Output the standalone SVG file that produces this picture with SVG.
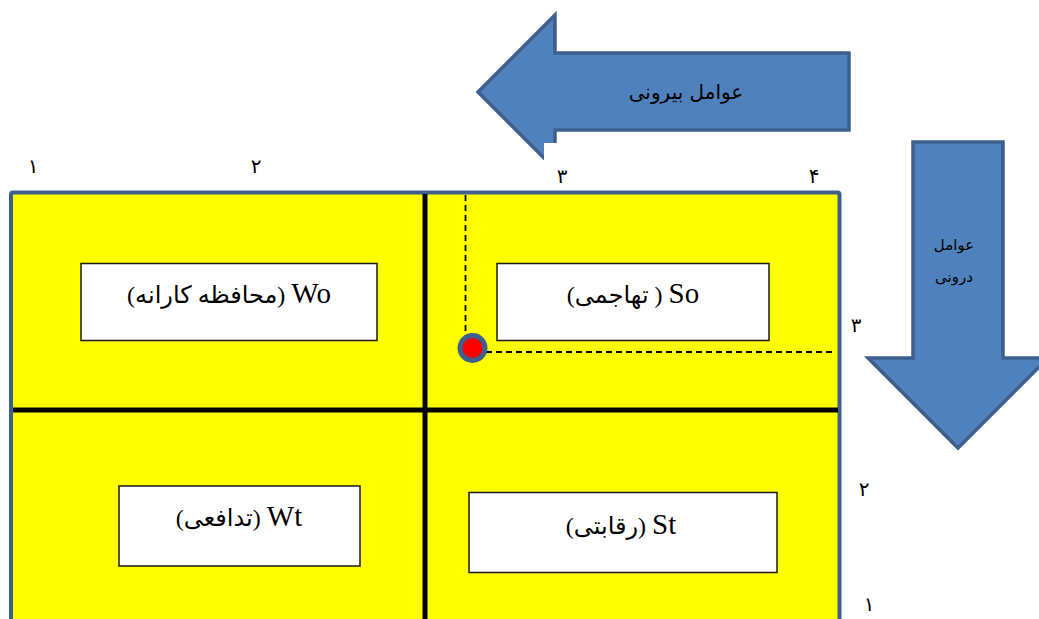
<svg xmlns="http://www.w3.org/2000/svg" width="1039" height="619" viewBox="0 0 1039 619">
<style>
.arrow{fill:#4f81bd;stroke:#3c5f8e;stroke-width:3.5;stroke-linejoin:miter}
.box{fill:#fff;stroke:#1a1a1a;stroke-width:1.5}
.bt{font-family:"Liberation Serif","DejaVu Sans",serif;font-size:24px;fill:#000;text-anchor:middle;direction:rtl;unicode-bidi:embed}
.lat{font-size:29px}
.at{font-family:"DejaVu Sans","Noto Sans",sans-serif;fill:#000;text-anchor:middle;direction:rtl}
.num{font-family:"DejaVu Sans",sans-serif;font-size:20px;fill:#000;text-anchor:middle}
.grid{stroke:#000;stroke-width:5}
.dash{stroke:#000;stroke-width:1.8;stroke-dasharray:6 4;fill:none}
</style>
<defs>
<clipPath id="topclip"><path d="M0,0 H1039 V143 H544 V619 H0 Z"/></clipPath>
</defs>
<rect width="1039" height="619" fill="#fff"/>

<g id="external-arrow">
<polygon class="arrow" clip-path="url(#topclip)" points="478,92 555,15 555,53 849,53 849,130 555,130 555,169"/>
<text class="at" x="686" y="99" font-size="20">عوامل بیرونی</text>
</g>

<g id="internal-arrow">
<polygon class="arrow" points="913,142 1003,142 1003,358 1048,358 958,448 868,358 913,358"/>
<text class="at" x="954" y="250" font-size="15">عوامل</text>
<text class="at" x="954" y="282" font-size="15">درونی</text>
</g>

<g id="numbers">
<text class="num" x="33" y="173">۱</text>
<text class="num" x="256" y="173">۲</text>
<text class="num" x="562" y="183">۳</text>
<text class="num" x="814" y="183">۴</text>
<text class="num" x="856" y="332">۳</text>
<text class="num" x="864" y="496">۲</text>
<text class="num" x="869" y="611">۱</text>
</g>

<g id="matrix">
<rect x="11" y="192.5" width="828.5" height="450" rx="2" fill="#ffff00" stroke="#3c5f8e" stroke-width="4"/>
<line class="grid" x1="425" y1="194" x2="425" y2="619"/>
<line class="grid" x1="13" y1="410" x2="838" y2="410"/>
</g>

<g id="connectors">
<line class="dash" x1="465.5" y1="195" x2="465.5" y2="336"/>
<line class="dash" x1="486" y1="352" x2="836" y2="352"/>
</g>

<g id="point">
<circle cx="472.5" cy="348" r="12.5" fill="#ff0000" stroke="#3c5f8e" stroke-width="5"/>
</g>

<g id="wo">
<rect class="box" x="81" y="263.5" width="296" height="77"/>
<text class="bt" x="229" y="303"><tspan class="lat">Wo</tspan> (محافظه کارانه)</text>
</g>

<g id="so">
<rect class="box" x="497" y="263.5" width="272" height="77"/>
<text class="bt" x="633" y="303"><tspan class="lat">So</tspan> ( تهاجمی)</text>
</g>

<g id="wt">
<rect class="box" x="119" y="486" width="241" height="80"/>
<text class="bt" x="239" y="526"><tspan class="lat">Wt</tspan> (تدافعی)</text>
</g>

<g id="st">
<rect class="box" x="469" y="492.5" width="308" height="80"/>
<text class="bt" x="621" y="534"><tspan class="lat">St</tspan> (رقابتی)</text>
</g>
</svg>
